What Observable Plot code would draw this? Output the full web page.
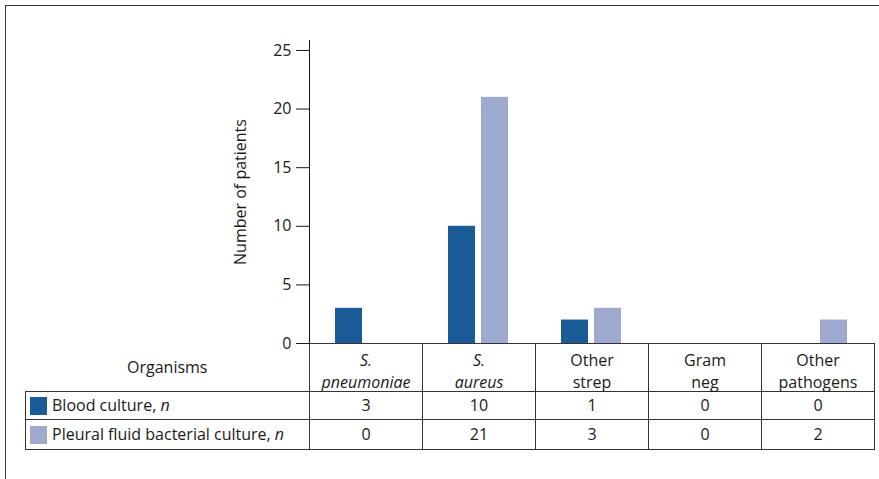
<!DOCTYPE html>
<html>
<head>
<meta charset="utf-8">
<script src="https://cdn.jsdelivr.net/npm/d3@7"></script>
<script src="https://cdn.jsdelivr.net/npm/@observablehq/plot@0.6"></script>
<style>
  html, body { margin: 0; padding: 0; background: #fff; }
  #wrap { position: relative; width: 879px; height: 479px; overflow: hidden; font-family: "Open Sans", sans-serif; color: #1a1a1a; }
  #frame { position: absolute; left: 5px; top: 5px; width: 880px; height: 480px; border-top: 1.4px solid #333; border-left: 1.4px solid #333; }
  #chart { position: absolute; left: 0; top: 0; }
  table { position: absolute; top: 343px; border-collapse: collapse; table-layout: fixed; font-family: "Open Sans", sans-serif; font-size: 16px; color: #1a1a1a; }
  td { border: 1.4px solid #333; padding: 0; text-align: center; vertical-align: middle; white-space: nowrap; }
  td.hdr { line-height: 22px; padding-top: 2px; }
  td.hdr span { position: relative; top: 3px; }
  td.org { border-top: none; border-left: none; }
  td.leg { text-align: left; padding-left: 4px; }
  .sw { display: inline-block; width: 17px; height: 18px; vertical-align: middle; margin-right: 5px; position: relative; top: -1px; }
</style>
</head>
<body>
<div id="wrap">
  <div id="frame"></div>
  <div id="chart"></div>
</div>
<script>
// ---- data ----
const categories = ["S. pneumoniae", "S. aureus", "Other strep", "Gram neg", "Other pathogens"];
const catLine1 = ["S.", "S.", "Other", "Gram", "Other"];
const catLine2 = ["pneumoniae", "aureus", "strep", "neg", "pathogens"];
const catItalic = [true, true, false, false, false];
const seriesNames = ["Blood culture", "Pleural fluid bacterial culture"];
const seriesColors = ["#1a5b98", "#9eaacd"];
// bar heights as drawn in the figure
const bloodBars = [3, 10, 2, 0, 0];
const pleuralBars = [0, 21, 3, 0, 2];
// values printed in the table
const bloodTable = [3, 10, 1, 0, 0];
const pleuralTable = [0, 21, 3, 0, 2];
const yTicks = [0, 5, 10, 15, 20, 25];
const yLabel = "Number of patients";
const rowHeader = "Organisms";

const rows = [];
categories.forEach((c, i) => {
  rows.push({org: c, series: seriesNames[0], value: bloodBars[i]});
  rows.push({org: c, series: seriesNames[1], value: pleuralBars[i]});
});

const chart = Plot.plot({
  width: 879,
  height: 345,
  marginLeft: 308,
  marginRight: 5,
  marginTop: 40,
  marginBottom: 2,
  style: {fontFamily: "Open Sans", fontSize: "16px", color: "#1a1a1a", background: "transparent", overflow: "visible"},
  fx: {domain: categories, padding: 0, axis: null, label: null},
  x: {domain: seriesNames, paddingInner: 0.18, paddingOuter: 0.8, axis: null},
  y: {domain: [0, 25.85], ticks: yTicks, tickSize: 13, tickPadding: 5, line: true,
      label: yLabel, labelAnchor: "center", labelOffset: 75, labelArrow: "none"},
  color: {domain: seriesNames, range: seriesColors},
  marks: [
    Plot.barY(rows, {fx: "org", x: "series", y: "value", fill: "series"})
  ]
});
document.getElementById("chart").appendChild(chart);

// ---- table aligned to the fx scale ----
let left0 = 308, step = 113.2;
try {
  const fxs = chart.scale("fx");
  left0 = fxs.apply(categories[0]);
  step = fxs.apply(categories[1]) - fxs.apply(categories[0]);
} catch (e) {}
const tableLeft = 25;
const firstW = left0 - tableLeft;

const table = document.createElement("table");
table.style.left = tableLeft + "px";
table.style.width = (firstW + step * categories.length) + "px";
const cg = document.createElement("colgroup");
[firstW, ...categories.map(() => step)].forEach(w => {
  const col = document.createElement("col");
  col.style.width = w + "px";
  cg.appendChild(col);
});
table.appendChild(cg);

const trH = document.createElement("tr");
const tdO = document.createElement("td");
tdO.className = "org";
tdO.textContent = rowHeader;
tdO.style.height = "47px";
trH.appendChild(tdO);
categories.forEach((c, i) => {
  const td = document.createElement("td");
  td.className = "hdr";
  if (catItalic[i]) td.style.fontStyle = "italic";
  const sp = document.createElement("span");
  sp.appendChild(document.createTextNode(catLine1[i]));
  sp.appendChild(document.createElement("br"));
  sp.appendChild(document.createTextNode(catLine2[i]));
  td.appendChild(sp);
  trH.appendChild(td);
});
table.appendChild(trH);

[[bloodTable, 27], [pleuralTable, 29]].forEach(([vals, h], s) => {
  const tr = document.createElement("tr");
  const td0 = document.createElement("td");
  td0.className = "leg";
  td0.style.height = h + "px";
  const sw = document.createElement("span");
  sw.className = "sw";
  sw.style.background = seriesColors[s];
  td0.appendChild(sw);
  td0.appendChild(document.createTextNode(seriesNames[s] + ", "));
  const it = document.createElement("i");
  it.textContent = "n";
  td0.appendChild(it);
  tr.appendChild(td0);
  vals.forEach(v => {
    const td = document.createElement("td");
    td.textContent = v;
    tr.appendChild(td);
  });
  table.appendChild(tr);
});
document.getElementById("wrap").appendChild(table);
</script>
</body>
</html>
